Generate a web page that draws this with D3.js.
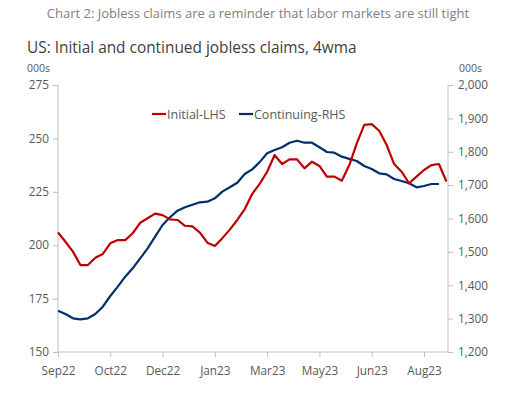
<!DOCTYPE html>
<html>
<head>
<meta charset="utf-8">
<script src="https://cdn.jsdelivr.net/npm/d3@7"></script>
<style>
  body { margin: 0; background: #fff; }
  svg text { font-family: "Open Sans", "Noto Sans", sans-serif; }
</style>
</head>
<body>
<script>
// weekly 4wma, Sep22 .. Sep23 (000s)
var initialLHS = [206.0, 201.6, 197.0, 190.7, 190.7, 194.1, 195.9, 200.9, 202.4, 202.4,
  205.6, 210.5, 212.6, 214.8, 214.1, 212.1, 211.8, 209.1, 208.8, 205.9,
  201.2, 199.6, 203.3, 207.3, 211.8, 216.9, 224.0, 228.7, 234.4, 242.2,
  238.0, 240.2, 240.2, 236.0, 239.1, 237.1, 232.1, 232.1, 230.2, 237.5,
  247.7, 256.3, 256.7, 253.6, 246.9, 238.0, 234.4, 229.0, 232.1, 235.2,
  237.5, 238.0, 229.8];
var continuingRHS = [1323.7, 1313.9, 1301, 1298, 1301, 1313.9, 1335.8, 1367.8, 1395.7, 1425.6,
  1450.8, 1480.7, 1510.7, 1545.5, 1580.5, 1603.6, 1623.4, 1633.5, 1641.4, 1648.5,
  1650.4, 1660.5, 1680.4, 1693.5, 1707.3, 1733.3, 1747.3, 1769, 1795.3, 1805.2,
  1813.3, 1827.1, 1833.1, 1827.1, 1827.1, 1813.3, 1799.3, 1797.2, 1785.3, 1778.8,
  1772.3, 1757.3, 1748.3, 1735.4, 1732.4, 1718.4, 1712.4, 1705.4, 1693.5, 1697.4,
  1703.4, 1703.4];
var tickIdx = [0, 7, 14, 21, 28, 35, 42, 49];
var tickLabels = ["Sep22", "Oct22", "Dec22", "Jan23", "Mar23", "May23", "Jun23", "Aug23"];
var leftTicks = [150, 175, 200, 225, 250, 275];
var rightTicks = [1200, 1300, 1400, 1500, 1600, 1700, 1800, 1900, 2000];

var W = 508, H = 396;
var pL = 58, pR = 448, pT = 85, pB = 352;
var red = "#C00000", blue = "#002F6C", grey = "#595959", axisCol = "#bfbfbf";

var svg = d3.select("body").append("svg")
  .attr("width", W).attr("height", H);

var x = d3.scaleLinear().domain([0, 52]).range([pL, 446.4]);
var yL = d3.scaleLinear().domain([150, 275]).range([pB, pT]);
var yR = d3.scaleLinear().domain([1200, 2000]).range([pB, pT]);

// titles
svg.append("text")
  .attr("x", 258).attr("y", 18)
  .attr("text-anchor", "middle")
  .attr("font-size", "13px")
  .attr("fill", "#7f7f7f")
  .text("Chart 2: Jobless claims are a reminder that labor markets are still tight");

svg.append("text")
  .attr("x", 27).attr("y", 53)
  .attr("font-size", "15.4px")
  .attr("fill", "#404040")
  .text("US: Initial and continued jobless claims, 4wma");

// unit labels
svg.append("text").attr("x", 27).attr("y", 72)
  .attr("font-size", "10.5px").attr("fill", grey).text("000s");
svg.append("text").attr("x", 459).attr("y", 72)
  .attr("font-size", "10.5px").attr("fill", grey).text("000s");

// axes
var gL = svg.append("g").attr("transform", "translate(" + pL + ",0)")
  .call(d3.axisLeft(yL).tickValues(leftTicks).tickSize(5).tickPadding(4));
var gR = svg.append("g").attr("transform", "translate(" + pR + ",0)")
  .call(d3.axisRight(yR).tickValues(rightTicks).tickSize(5).tickPadding(5)
    .tickFormat(d3.format(",")));
var gX = svg.append("g").attr("transform", "translate(0," + pB + ")")
  .call(d3.axisBottom(x).tickValues(tickIdx).tickSize(5).tickPadding(10)
    .tickFormat(function (d, i) { return tickLabels[i]; }));

[gL, gR, gX].forEach(function (g) {
  g.select(".domain").remove();
  g.selectAll(".tick line").attr("stroke", axisCol);
  g.selectAll(".tick text").attr("fill", grey)
    .style("font-size", "11.8px").style("font-family", '"Open Sans", sans-serif');
});

// axis lines
svg.append("line").attr("x1", pL).attr("x2", pL).attr("y1", pT).attr("y2", pB)
  .attr("stroke", axisCol);
svg.append("line").attr("x1", pR).attr("x2", pR).attr("y1", pT).attr("y2", pB)
  .attr("stroke", axisCol);
svg.append("line").attr("x1", pL).attr("x2", pR).attr("y1", pB).attr("y2", pB)
  .attr("stroke", axisCol);

// series
var lineL = d3.line().x(function (d, i) { return x(i); }).y(function (d) { return yL(d); });
var lineR = d3.line().x(function (d, i) { return x(i); }).y(function (d) { return yR(d); });

svg.append("path").datum(continuingRHS)
  .attr("d", lineR).attr("fill", "none")
  .attr("stroke", blue).attr("stroke-width", 2.2).attr("stroke-linejoin", "round");
svg.append("path").datum(initialLHS)
  .attr("d", lineL).attr("fill", "none")
  .attr("stroke", red).attr("stroke-width", 2.2).attr("stroke-linejoin", "round");

// legend
var legend = [
  { name: "Initial-LHS", color: red, x: 152 },
  { name: "Continuing-RHS", color: blue, x: 239 }
];
var lg = svg.selectAll(".lg").data(legend).enter().append("g")
  .attr("transform", function (d) { return "translate(" + d.x + ",114)"; });
lg.append("line").attr("x1", 0).attr("x2", 14).attr("y1", 0).attr("y2", 0)
  .attr("stroke", function (d) { return d.color; }).attr("stroke-width", 2.2);
lg.append("text").attr("x", 15).attr("y", 4.5)
  .attr("font-size", "12.5px").attr("fill", grey)
  .text(function (d) { return d.name; });
</script>
</body>
</html>
